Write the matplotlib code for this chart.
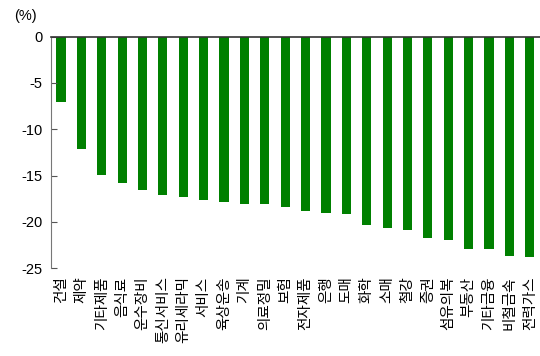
import matplotlib.pyplot as plt

plt.rcParams['font.family'] = ['Liberation Sans', 'Noto Sans CJK KR', 'DejaVu Sans']
plt.rcParams['axes.unicode_minus'] = False

sectors = ['건설', '제약', '기타제품', '음식료', '운수장비', '통신서비스', '유리세라믹',
           '서비스', '육상운송', '기계', '의료정밀', '보험', '전자제품', '은행', '도매',
           '화학', '소매', '철강', '증권', '섬유의복', '부동산', '기타금융', '비철금속', '전력가스']
returns = [-7.1, -12.1, -14.9, -15.8, -16.6, -17.1, -17.3, -17.7, -17.9, -18.1, -18.1, -18.4,
           -18.8, -19.0, -19.2, -20.3, -20.7, -20.9, -21.8, -22.0, -22.9, -22.9, -23.7, -23.8]

fig = plt.figure(figsize=(5.4, 3.56), dpi=100)
ax = fig.add_axes([0.094, 0.247, 0.906, 0.650])

x = range(len(sectors))
ax.bar(x, returns, width=0.45, color='#008000')

ax.set_xlim(-0.5, len(sectors) - 0.5)
ax.set_ylim(-25, 0)
ax.set_yticks([0, -5, -10, -15, -20, -25])
ax.tick_params(axis='y', direction='in', length=4, labelsize=10.5, color='#555555', pad=6)
ax.tick_params(axis='x', length=0, pad=6)
ax.set_xticks(list(x))
ax.set_xticklabels(sectors, rotation=90, fontsize=10.5,
                   family=['Noto Sans CJK KR', 'DejaVu Sans'])

# zero line on top, plain grey axis on the left
ax.spines['right'].set_visible(False)
ax.spines['bottom'].set_visible(False)
ax.spines['top'].set_color('#333333')
ax.spines['top'].set_linewidth(1.2)
ax.spines['left'].set_color('#777777')

fig.text(0.026, 0.975, '(%)', fontsize=10.5, va='top', ha='left')

fig.savefig('out.png', dpi=100)
